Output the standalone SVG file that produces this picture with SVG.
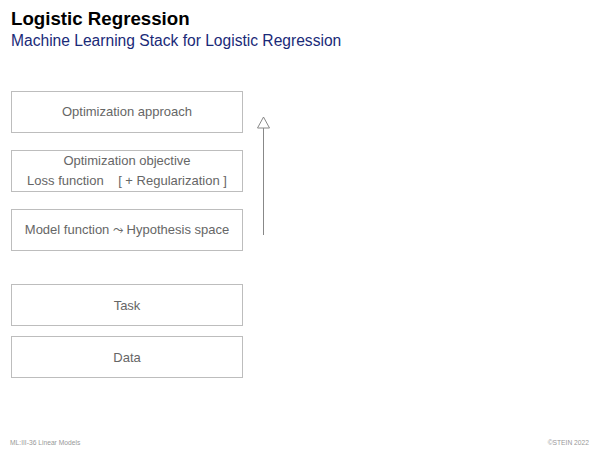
<svg xmlns="http://www.w3.org/2000/svg" width="600" height="450" viewBox="0 0 600 450">
  <style>
    .title { font-family: "Liberation Sans", Arial, sans-serif; font-weight: bold; font-size: 18.7px; fill: #000; }
    .subtitle { font-family: "Liberation Sans", Arial, sans-serif; font-size: 15.6px; fill: #1a2a78; }
    .box { fill: #fff; stroke: #bdbdbd; stroke-width: 1; }
    .label { font-family: "Liberation Sans", Arial, sans-serif; font-size: 13px; fill: #666; text-anchor: middle; }
    .foot { font-family: "Liberation Sans", Arial, sans-serif; font-size: 6.7px; fill: #999; }
    .conn { stroke: #888; stroke-width: 1; fill: none; }
  </style>
  <defs>
    <!-- open triangular head, drawn pointing along +x -->
    <marker id="open-head" viewBox="0 0 12 13" refX="11.5" refY="6.5" markerWidth="12" markerHeight="13" markerUnits="userSpaceOnUse" orient="auto">
      <path d="M0.5,0.5 L11.5,6.5 L0.5,12.5 Z" fill="#fff" stroke="#888" stroke-width="1"/>
    </marker>
  </defs>

  <rect width="600" height="450" fill="#fff"/>

  <text class="title" x="11" y="25">Logistic Regression</text>
  <text class="subtitle" x="11" y="46">Machine Learning Stack for Logistic Regression</text>

  <g id="optimization-approach">
    <rect class="box" x="11.5" y="91.5" width="231" height="41"/>
    <text class="label" x="127" y="115.5">Optimization approach</text>
  </g>

  <g id="optimization-objective">
    <rect class="box" x="11.5" y="150.5" width="231" height="41"/>
    <text class="label" x="127" y="164.5">Optimization objective</text>
    <text class="label" x="127" y="184.5" xml:space="preserve">Loss function    [ + Regularization ]</text>
  </g>

  <g id="model-function">
    <rect class="box" x="11.5" y="209.5" width="231" height="41"/>
    <text class="label" x="127" y="234">Model function ⤳ Hypothesis space</text>
  </g>

  <g id="task">
    <rect class="box" x="11.5" y="284.5" width="231" height="41"/>
    <text class="label" x="127" y="309.5">Task</text>
  </g>

  <g id="data">
    <rect class="box" x="11.5" y="336.5" width="231" height="41"/>
    <text class="label" x="127" y="361.5">Data</text>
  </g>

  <g id="connectors">
    <line class="conn" x1="263.5" y1="235" x2="263.5" y2="117" marker-end="url(#open-head)"/>
  </g>

  <text class="foot" x="10" y="445">ML:III-36    Linear Models</text>
  <text class="foot" x="589" y="445" text-anchor="end">©STEIN 2022</text>
</svg>
